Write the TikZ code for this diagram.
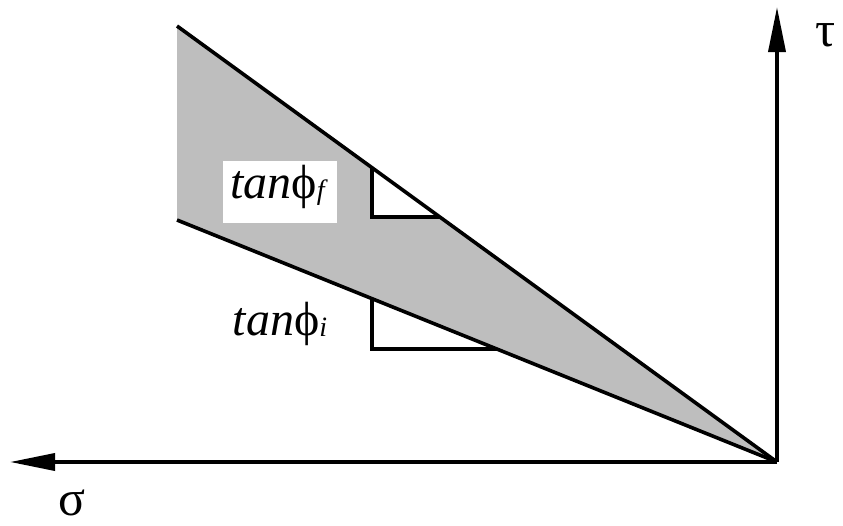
\documentclass[tikz,border=0pt]{standalone}
\usepackage{fontspec}
\setmainfont{Liberation Serif}
\usetikzlibrary{arrows.meta}
\definecolor{wedgegray}{RGB}{190,190,190}
\tikzset{
  edge/.style={line width=3.6pt, line join=miter},
  axis/.style={line width=3.6pt, -{Triangle[length=45pt,width=17pt]}},
  lbl/.style={inner sep=0pt, font=\fontsize{48}{52}\selectfont},
  greek/.style={inner sep=0pt, font=\fontsize{50}{54}\selectfont},
}
\newcommand{\slopelabel}[1]{\textit{tan}ϕ\raisebox{-1pt}{\fontsize{28}{30}\selectfont\textit{#1}}}
\begin{document}
\begin{tikzpicture}[x=1pt,y=-1pt]
\useasboundingbox (0,0) rectangle (843,525);
% key points
\coordinate (O) at (777,462);
\coordinate (UL) at (177,26);
\coordinate (LL) at (177,220);
\coordinate (Ytip) at (777,7);
\coordinate (Xtip) at (10,462);
% wedge
\fill[wedgegray] (UL) -- (O) -- (LL) -- cycle;
% slope triangles
\coordinate (ft) at (372,167.7);
\coordinate (fc) at (372,217);
\coordinate (fe) at (440,217);
\filldraw[fill=white, edge] (ft) -- (fc) -- (fe);
\coordinate (it) at (372,298.6);
\coordinate (ic) at (372,349);
\coordinate (ie) at (497,349);
\draw[edge] (it) -- (ic) -- (ie);
% wedge edges
\draw[edge] (UL) -- (O);
\draw[edge] (LL) -- (O);
% axes
\draw[axis] (O) -- (Ytip);
\draw[axis] (O) -- (Xtip);
% labels
\node[fill=white, minimum width=114pt, minimum height=62pt, inner sep=0pt] (fbox) at (280,192) {};
\node[lbl, anchor=base] (flabel) at (279,198) {\slopelabel{f}};
\node[lbl, anchor=base] (ilabel) at (280,335) {\slopelabel{i}};
\node[greek] (tau) at (826,35) {τ};
\node[greek] (sigma) at (72,503) {σ};
\end{tikzpicture}
\end{document}
